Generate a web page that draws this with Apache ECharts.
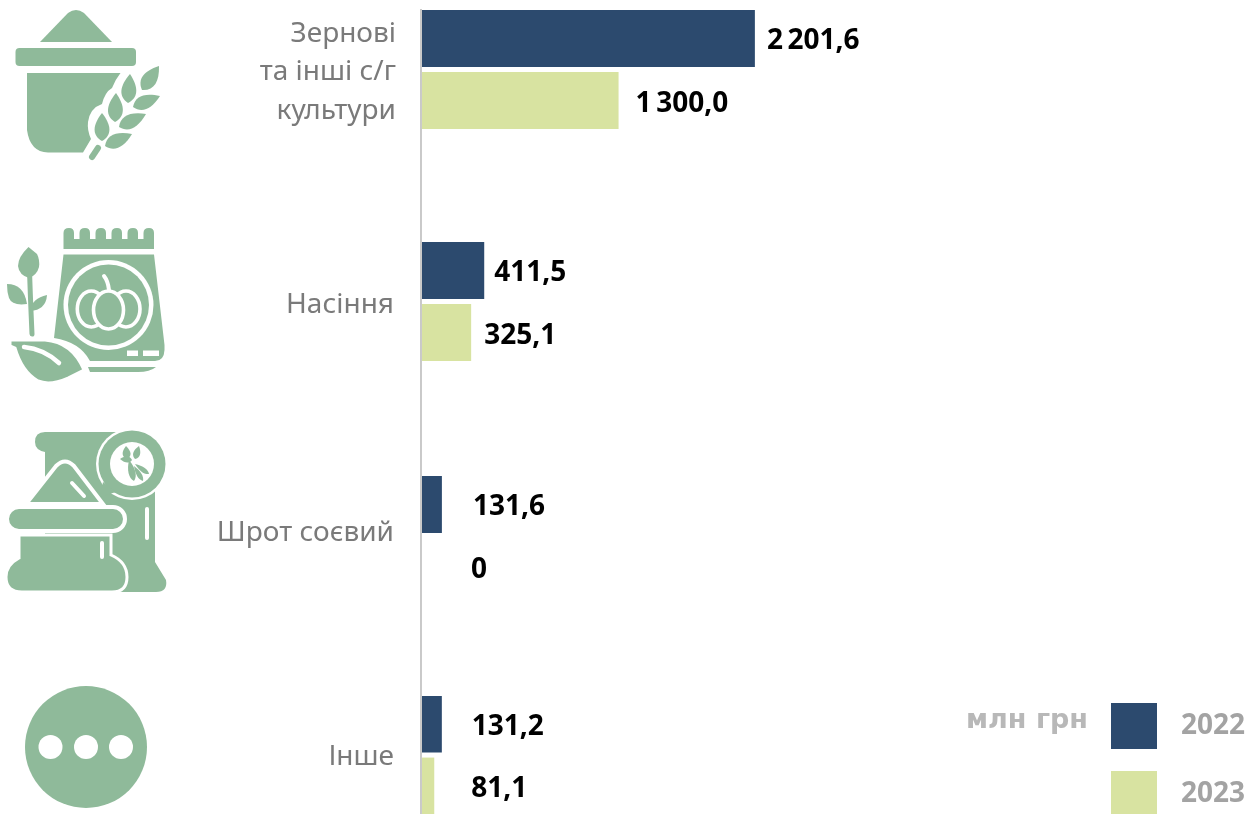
<!DOCTYPE html>
<html lang="uk">
<head>
<meta charset="utf-8">
<title>Експорт, млн грн</title>
<script src="https://cdn.jsdelivr.net/npm/echarts@6/dist/echarts.min.js"></script>
<style>
  html, body { margin: 0; padding: 0; background: #fff; overflow: hidden; }
  #chart { width: 1252px; height: 814px; }
</style>
</head>
<body>
<div id="chart"></div>
<script>
// Categories and values, млн грн
const categories = ['Зернові\nта інші с/г\nкультури', 'Насіння', 'Шрот соєвий', 'Інше'];
const years = ['2022', '2023'];
const values2022 = [2201.6, 411.5, 131.6, 131.2];
const values2023 = [1300.0, 325.1, 0, 81.1];
const unitLabel = 'млн грн';

const DARK = '#2c4a6e';
const LIGHT = '#d8e3a1';
const ICON = '#8fba9a';
const WHITE = '#ffffff';
const VALUE_FONT = '"Open Sans", "Noto Sans", sans-serif';
const CATEGORY_FONT = '"Noto Sans", Roboto, sans-serif';

// Rows are spaced by hand, so every row gets its own grid on the same value scale
const rowTops = [10, 242, 476, 696];
const rowHeight = 119;
const labelGaps = [
  [12, 17],
  [10, 13],
  [31, 49],
  [30, 37]
];
const categoryMargins = [26, 28, 28, 28];
// Blank space above (positive) or below (negative) a category label, to shift it vertically
const categorySpacers = [6, 8, -4, 4];

function formatValue(v) {
  if (v === 0) return '0';
  const parts = v.toFixed(1).split('.');
  return parts[0].replace(/\B(?=(\d{3})+$)/g, '\u2009') + ',' + parts[1];
}

function formatCategory(name, spacer) {
  const lines = name.split('\n').map(line => `{t|${line}}`).join('\n');
  const blank = '{s|\u00a0}';
  return spacer > 0 ? blank + '\n' + lines : lines + '\n' + blank;
}

const grids = rowTops.map(top => ({ left: 422, width: 756, top, height: rowHeight }));
const xAxes = rowTops.map((_, i) => ({
  type: 'value', gridIndex: i, min: 0, max: 5000, show: false
}));
const yAxes = categories.map((name, i) => ({
  type: 'category', gridIndex: i, inverse: true, data: [name],
  axisLine: { show: false }, axisTick: { show: false },
  axisLabel: {
    margin: categoryMargins[i], align: 'right',
    formatter: value => formatCategory(value, categorySpacers[i]),
    rich: {
      t: {
        color: '#7a7a7a', fontFamily: CATEGORY_FONT, fontSize: 28,
        lineHeight: 38.5, align: 'right'
      },
      s: { fontSize: 1, lineHeight: Math.abs(categorySpacers[i]), align: 'right' }
    }
  }
}));

const series = [];
categories.forEach((_, i) => {
  [values2022, values2023].forEach((vals, s) => {
    series.push({
      type: 'bar', name: years[s], xAxisIndex: i, yAxisIndex: i,
      data: [vals[i]], barWidth: 57, barGap: '9%',
      itemStyle: { color: s === 0 ? DARK : LIGHT },
      label: {
        show: true, position: 'right', distance: labelGaps[i][s], offset: [0, 3],
        color: '#000', fontFamily: VALUE_FONT, fontWeight: 700, fontSize: 28,
        formatter: p => formatValue(p.value)
      },
      silent: true
    });
  });
});

// Icon shapes
function path(d, fill, extra) {
  return Object.assign({ type: 'path', shape: { pathData: d }, style: { fill: fill || ICON } }, extra || {});
}
function stroke(d, w, color) {
  return { type: 'path', shape: { pathData: d }, style: { fill: 'none', stroke: color || WHITE, lineWidth: w, lineCap: 'round' } };
}
function circle(cx, cy, r, fill) {
  return { type: 'circle', shape: { cx, cy, r }, style: { fill: fill || ICON } };
}
function ellipseRing(cx, cy, rx, ry, w) {
  const k = 0.5523, ox = rx * k, oy = ry * k;
  const d = `M${cx - rx} ${cy}C${cx - rx} ${cy - oy} ${cx - ox} ${cy - ry} ${cx} ${cy - ry}` +
    `C${cx + ox} ${cy - ry} ${cx + rx} ${cy - oy} ${cx + rx} ${cy}` +
    `C${cx + rx} ${cy + oy} ${cx + ox} ${cy + ry} ${cx} ${cy + ry}` +
    `C${cx - ox} ${cy + ry} ${cx - rx} ${cy + oy} ${cx - rx} ${cy}Z`;
  return { type: 'path', shape: { pathData: d }, style: { fill: ICON, stroke: WHITE, lineWidth: w } };
}
function leaf(x1, y1, x2, y2, w) {
  const dx = x2 - x1, dy = y2 - y1;
  const len = Math.hypot(dx, dy) || 1;
  const nx = -dy / len * w * 0.66, ny = dx / len * w * 0.66;
  const ax = x1 + dx * 0.45, ay = y1 + dy * 0.45;
  const bx = x1 + dx * 0.8, by = y1 + dy * 0.8;
  return path(`M${x1} ${y1}C${ax + nx} ${ay + ny} ${bx + nx} ${by + ny} ${x2} ${y2}C${bx - nx} ${by - ny} ${ax - nx} ${ay - ny} ${x1} ${y1}Z`);
}

const grainIcon = [
  path('M40 42L68 13Q76 7 84 13L112 42Z'),
  path('M19.5 48H132Q136 48 136 52V62Q136 66 132 66H19.5Q15.5 66 15.5 62V52Q15.5 48 19.5 48Z'),
  path('M27 73L120.5 73Q115 80 112 88Q105 92 102 104Q90 108 88 122Q87 130 91 139L83 152.5L48 152.5Q30 152 27 130Z'),
  leaf(130, 74, 128, 103, 15), leaf(159, 66, 142, 90, 15), leaf(160, 96, 133, 107, 14),
  leaf(116, 93, 115, 122, 15), leaf(146, 114, 119, 127, 14), leaf(102, 113, 102, 141, 15),
  leaf(132, 134, 105, 146, 14),
  stroke('M98 148L92 157', 6, ICON)
];

const seedIcon = [
  path('M63.5 249V233Q63.5 228 69 228Q74 228 74 233V239H79.5V233Q79.5 228 85 228Q90 228 90 233V239H95.5V233Q95.5 228 101 228Q106 228 106 233V239H111.5V233Q111.5 228 117 228Q122 228 122 233V239H127.5V233Q127.5 228 133 228Q138 228 138 233V239H143.5V233Q143.5 228 149 228Q154 228 154 233V249Z'),
  path('M63.5 254.5H154L164.5 345V350Q164 361 155 361H90Q80 342 54 338Z'),
  path('M88 367H156Q150 372 138 372H90Z'),
  circle(108.5, 305, 45, WHITE),
  circle(108.5, 305, 40.5, ICON),
  ellipseRing(91.3, 309, 14, 18, 3.6),
  ellipseRing(126, 309, 14, 18, 3.6),
  ellipseRing(108.5, 310, 15, 19, 3.6),
  stroke('M104 276Q108 281 109 290', 4),
  { type: 'rect', shape: { x: 127, y: 350.5, width: 11, height: 5.5 }, style: { fill: WHITE } },
  { type: 'rect', shape: { x: 143, y: 350.5, width: 16, height: 5.5 }, style: { fill: WHITE } },
  stroke('M29 254Q30 290 32 334', 5, ICON),
  path('M28.5 247L37 254Q40 260 39 267Q37 275 29 278Q19 275 18 266Q18 257 28.5 247Z'),
  path('M7 284Q24 284 27 304Q12 306 9 298Q7 292 7 284Z'),
  path('M47 295Q46 310 30 311Q32 298 47 295Z'),
  path('M10 340H45Q72 342 84 370L68 378Q50 386 38 381Q22 372 15 348L10 346Z', ICON, {
    style: { fill: ICON, stroke: WHITE, lineWidth: 3 }
  }),
  stroke('M24 347Q44 349 59 363', 4.5)
];

const mealIcon = [
  path('M45 432H120L155 470V562L166 580Q168 592 156 592H45V452Q35 450 35 442Q35 432 45 432Z'),
  circle(132, 464, 36, WHITE),
  circle(132, 464, 33.5),
  path('M103 482L100 497L116 492Z'),
  circle(132, 464, 22, WHITE),
  leaf(126, 446, 127, 459, 8), leaf(139, 446, 135, 459, 7), leaf(120, 459, 132, 460, 6),
  leaf(129, 460, 134, 481, 7), leaf(135, 464, 149, 474, 5), leaf(134, 466, 143, 481, 5),
  path('M26 504L56 466Q65 457 74 466L103 504Z', ICON, { style: { fill: ICON, stroke: WHITE, lineWidth: 4 } }),
  stroke('M72 483L84 496', 4),
  { type: 'rect', shape: { x: 7, y: 507, width: 118, height: 24, r: 12 }, style: { fill: ICON, stroke: WHITE, lineWidth: 4 } },
  path('M19 535H111V555Q127 562 127 577Q127 592 112 592H22Q6 592 6 577Q6 565 19 558Z', ICON, {
    style: { fill: ICON, stroke: WHITE, lineWidth: 3 }
  }),
  stroke('M102 543V557', 4),
  stroke('M147 509V538', 4)
];

const otherIcon = [
  circle(86, 747, 61),
  circle(50.5, 747, 12, WHITE),
  circle(86, 747, 12, WHITE),
  circle(121, 747, 12, WHITE)
];

// Icons beside the rows
series.push({
  type: 'custom', coordinateSystem: 'none', silent: true, clip: false, data: [0],
  renderItem: () => ({ type: 'group', children: grainIcon.concat(seedIcon, mealIcon, otherIcon) })
});

const option = {
  animation: false,
  backgroundColor: '#fff',
  grid: grids,
  xAxis: xAxes,
  yAxis: yAxes,
  series,
  legend: {
    data: years, orient: 'vertical', left: 1111, top: 703, height: 130, padding: 0,
    itemWidth: 46, itemHeight: 46, itemGap: 22, selectedMode: false,
    icon: 'rect',
    textStyle: {
      color: '#a3a3a3', fontFamily: VALUE_FONT, fontWeight: 700, fontSize: 28,
      padding: [0, 0, 0, 19]
    }
  },
  graphic: [
    { type: 'line', shape: { x1: 421, y1: 9, x2: 421, y2: 814 }, style: { stroke: '#b3b3b3', lineWidth: 1.4 }, z: 1 },
    { type: 'text', style: { text: unitLabel, x: 966, y: 721, fill: '#b8b8b8', font: '700 27px "DejaVu Sans"', verticalAlign: 'middle' } }
  ]
};

const chart = echarts.init(document.getElementById('chart'), null, { renderer: 'canvas' });
chart.setOption(option);
</script>
</body>
</html>
